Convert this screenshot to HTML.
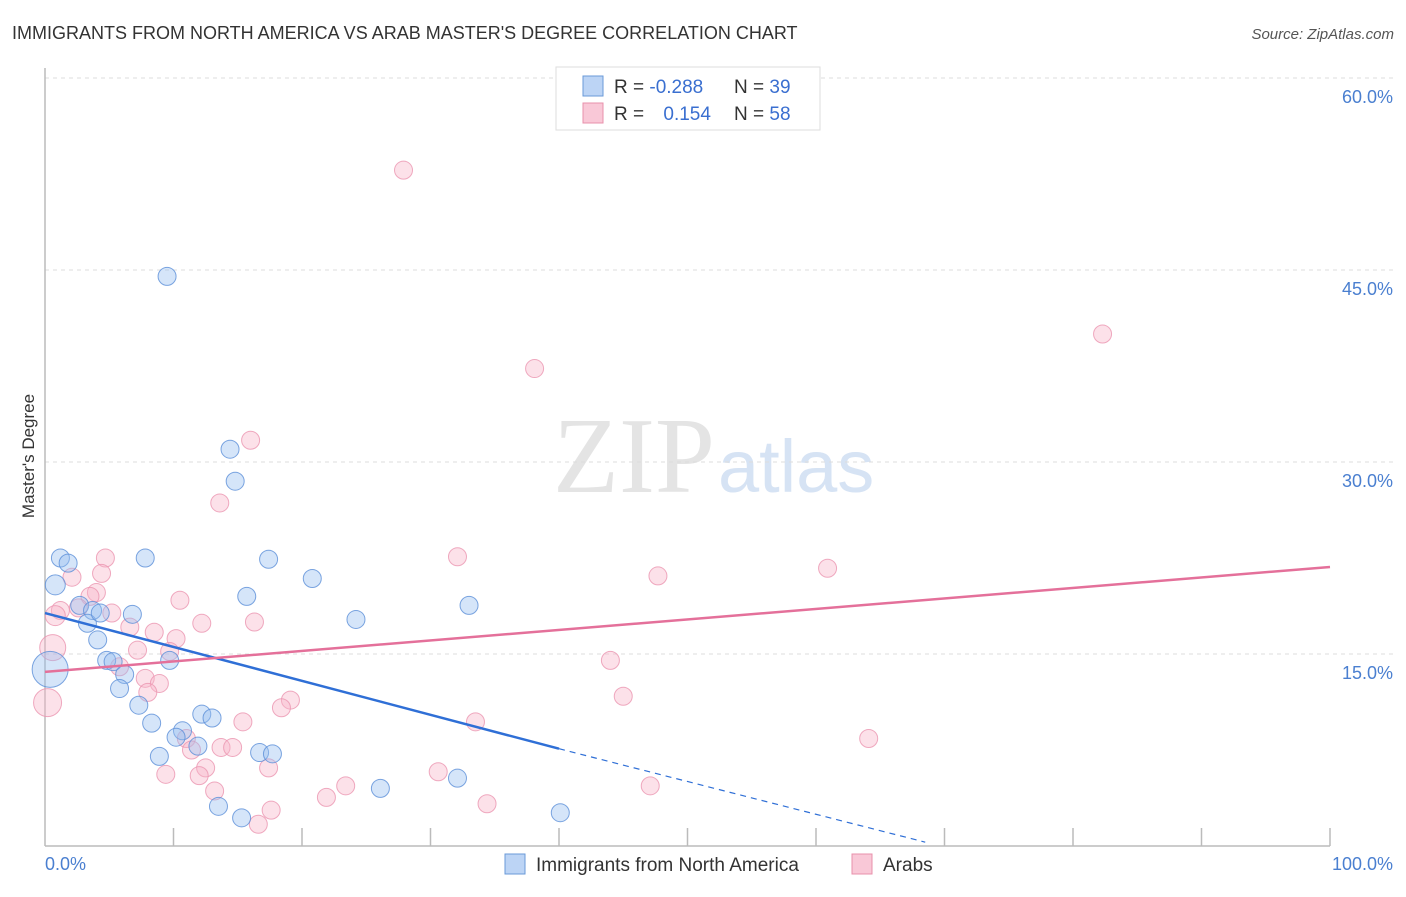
<!DOCTYPE html>
<html><head><meta charset="utf-8"><style>
body{margin:0;background:#fff;font-family:"Liberation Sans",sans-serif;}
</style></head><body>
<svg width="1406" height="892" xmlns="http://www.w3.org/2000/svg">
<text x="12" y="39" font-size="18" fill="#333">IMMIGRANTS FROM NORTH AMERICA VS ARAB MASTER'S DEGREE CORRELATION CHART</text>
<text x="1394" y="39" font-size="15" fill="#555" text-anchor="end" font-style="italic">Source: ZipAtlas.com</text>
<text x="715" y="492" font-size="108" fill="#e4e4e4" text-anchor="end" font-family="Liberation Serif">ZIP</text>
<text x="718" y="492" font-size="74" fill="#d6e3f4">atlas</text>
<g id="grid"></g>
<g id="axes"></g>
<g id="pts"></g>
<g id="trends"></g>
<text transform="translate(34,456) rotate(-90)" font-size="17" fill="#333" text-anchor="middle">Master's Degree</text>
<text x="45" y="870" font-size="18" fill="#4a7fd0">0.0%</text>
<text x="1393" y="870" font-size="18" fill="#4a7fd0" text-anchor="end">100.0%</text>
<g>
<rect x="556" y="67" width="264" height="63" fill="#fff" stroke="#ddd"/>
<rect x="583" y="76" width="20" height="20" fill="#bcd4f5" stroke="#6a9ad8"/>
<rect x="583" y="103" width="20" height="20" fill="#f9c8d7" stroke="#e890ab"/>
<text x="614" y="93" font-size="19" fill="#333">R = <tspan fill="#3a6fd0">-0.288</tspan></text>
<text x="734" y="93" font-size="19" fill="#333">N = <tspan fill="#3a6fd0">39</tspan></text>
<text x="614" y="120" font-size="19" fill="#333">R = <tspan fill="#3a6fd0" dx="14">0.154</tspan></text>
<text x="734" y="120" font-size="19" fill="#333">N = <tspan fill="#3a6fd0">58</tspan></text>
</g>
<g>
<rect x="505" y="854" width="20" height="20" fill="#bcd4f5" stroke="#6a9ad8"/>
<text x="536" y="871" font-size="19" fill="#333">Immigrants from North America</text>
<rect x="852" y="854" width="20" height="20" fill="#f9c8d7" stroke="#e890ab"/>
<text x="883" y="871" font-size="19" fill="#333">Arabs</text>
</g>
</svg>
<script>
const yTicks=[15,30,45,60];
const yTickLabels=["15.0%","30.0%","45.0%","60.0%"];
const xTicks=[10,20,30,40,50,60,70,80,90,100];
const blueX=[9.5,14.4,14.8,1.2,1.8,7.8,17.4,0.8,20.8,15.7,6.8,24.2,33.0,2.7,3.7,3.3,4.1,4.8,5.3,9.7,0.4,6.2,5.8,7.3,8.3,12.2,13.0,10.7,10.2,11.9,8.9,16.7,17.7,32.1,26.1,13.5,15.3,40.1,4.3];
const blueY=[44.5,31.0,28.5,22.5,22.1,22.5,22.4,20.4,20.9,19.5,18.1,17.7,18.8,18.8,18.4,17.4,16.1,14.5,14.4,14.5,13.8,13.4,12.3,11.0,9.6,10.3,10.0,9.0,8.5,7.8,7.0,7.3,7.2,5.3,4.5,3.1,2.2,2.6,18.2];
const blueR=[9,9,9,9,9,9,9,10,9,9,9,9,9,9,9,9,9,9,9,9,18,9,9,9,9,9,9,9,9,9,9,9,9,9,9,9,9,9,9];
const pinkX=[27.9,82.3,38.1,16.0,13.6,32.1,4.7,2.1,4.4,47.7,60.9,4.0,10.5,3.5,2.6,1.2,0.8,5.2,12.2,16.3,6.6,8.5,10.2,0.6,7.2,9.7,5.8,7.8,8.9,8.0,19.1,18.4,44.0,45.0,33.5,15.4,64.1,11.0,13.7,14.6,11.4,12.5,17.4,9.4,12.0,30.6,23.4,13.2,47.1,34.4,21.9,17.6,16.6,0.2];
const pinkY=[52.8,40.0,37.3,31.7,26.8,22.6,22.5,21.0,21.3,21.1,21.7,19.8,19.2,19.5,18.6,18.4,18.0,18.2,17.4,17.5,17.1,16.7,16.2,15.5,15.3,15.2,14.0,13.1,12.7,12.0,11.4,10.8,14.5,11.7,9.7,9.7,8.4,8.4,7.7,7.7,7.5,6.1,6.1,5.6,5.5,5.8,4.7,4.3,4.7,3.3,3.8,2.8,1.7,11.2];
const pinkR=[9,9,9,9,9,9,9,9,9,9,9,9,9,9,9,9,10,9,9,9,9,9,9,13,9,9,9,9,9,9,9,9,9,9,9,9,9,9,9,9,9,9,9,9,9,9,9,9,9,9,9,9,9,14];
const blueTrend=[0,18.2,40,7.6,68.5,0.3];
const pinkTrend=[0,13.6,100,21.8];
const NS="http://www.w3.org/2000/svg";
const sx=v=>45+v*12.85, sy=v=>846-v*12.8;
function mk(t,a,p){const e=document.createElementNS(NS,t);for(const k in a)e.setAttribute(k,a[k]);document.getElementById(p).appendChild(e);return e;}
yTicks.forEach((t,i)=>{
 const l=mk('line',{x1:45,x2:1393,y1:sy(t),y2:sy(t),stroke:'#ddd','stroke-dasharray':'4,4'},'grid');
 
 
 const tx=mk('text',{x:1393,y:sy(t)+25,'font-size':18,fill:'#4a7fd0','text-anchor':'end'},'grid');
 tx.textContent=yTickLabels[i];
 
 
});
const ya=mk('line',{x1:45,x2:45,y1:68,y2:846,stroke:'#bbb','stroke-width':1.5},'axes');


const xa=mk('line',{x1:45,x2:1330,y1:846,y2:846,stroke:'#bbb','stroke-width':1.5},'axes');


xTicks.forEach(t=>{
 const l=mk('line',{x1:sx(t),x2:sx(t),y1:828,y2:846,stroke:'#bbb','stroke-width':1.5},'axes');
 
 
});
function pts(X,Y,R,fill,stroke,name){X.forEach((x,i)=>{
 const c=mk('circle',{cx:sx(x),cy:sy(Y[i]),r:R[i],fill:fill,stroke:stroke,'stroke-width':1,'stroke-opacity':0.8},'pts');
 
 
});}
pts(pinkX,pinkY,pinkR,'rgba(248,180,200,0.4)','#eb95b0','arab-point');
pts(blueX,blueY,blueR,'rgba(150,190,240,0.4)','#5b8fd8','immigrant-point');
const b1=mk('line',{x1:sx(blueTrend[0]),y1:sy(blueTrend[1]),x2:sx(blueTrend[2]),y2:sy(blueTrend[3]),stroke:'#2f6fd6','stroke-width':2.5},'trends');


const b2=mk('line',{x1:sx(blueTrend[2]),y1:sy(blueTrend[3]),x2:sx(blueTrend[4]),y2:sy(blueTrend[5]),stroke:'#2f6fd6','stroke-width':1.2,'stroke-dasharray':'6,5'},'trends');


const p1=mk('line',{x1:sx(pinkTrend[0]),y1:sy(pinkTrend[1]),x2:sx(pinkTrend[2]),y2:sy(pinkTrend[3]),stroke:'#e4709a','stroke-width':2.5},'trends');


</script>
</body></html>
